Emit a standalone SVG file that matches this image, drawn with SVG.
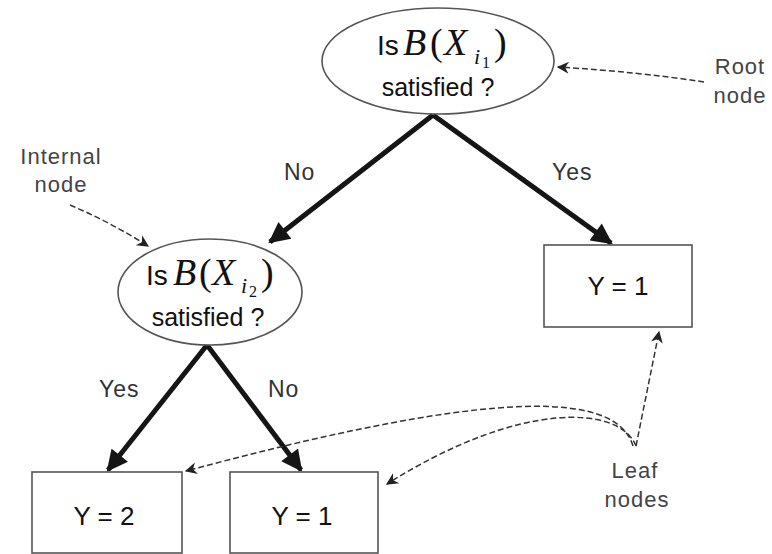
<svg xmlns="http://www.w3.org/2000/svg" width="772" height="554" viewBox="0 0 772 554">
<style>
.node{fill:#fff;stroke:#555;stroke-width:1.6}
.t{font-family:"Liberation Sans",Arial,sans-serif;fill:#111}
.m{font-family:"Liberation Serif","Times New Roman",serif;fill:#111}
.mi{font-style:italic}
.lab{font-family:"Liberation Sans",Arial,sans-serif;fill:#333;font-size:23px;letter-spacing:1px}
.ann{font-family:"Liberation Sans",Arial,sans-serif;fill:#444;font-size:22px;letter-spacing:1px}
.thick{stroke:#151515;stroke-width:5;fill:none}
.dash{stroke:#333;stroke-width:1.5;fill:none;stroke-dasharray:6 3}
</style>
<defs>
<marker id="big" viewBox="0 0 10 10" refX="9" refY="5" markerWidth="4.4" markerHeight="4.2" markerUnits="strokeWidth" orient="auto">
<path d="M0,0 L10,5 L0,10 z" fill="#151515"/>
</marker>
<marker id="small" viewBox="0 0 10 10" refX="9" refY="5" markerWidth="11" markerHeight="8" markerUnits="strokeWidth" orient="auto">
<path d="M0,0 L10,5 L0,10 L3,5 z" fill="#222"/>
</marker>
</defs>

<g id="connectors">
<line class="thick" x1="433" y1="115" x2="270" y2="242" marker-end="url(#big)"/>
<line class="thick" x1="433" y1="115" x2="611" y2="243" marker-end="url(#big)"/>
<line class="thick" x1="207" y1="345" x2="108" y2="470" marker-end="url(#big)"/>
<line class="thick" x1="207" y1="345" x2="301" y2="470" marker-end="url(#big)"/>
<text class="lab" x="284" y="180">No</text>
<text class="lab" x="552" y="180">Yes</text>
<text class="lab" x="99" y="397">Yes</text>
<text class="lab" x="268" y="397">No</text>
<path class="dash" d="M704,82 Q640,72 558,67" marker-end="url(#small)"/>
<path class="dash" d="M70,205 Q110,222 148,246" marker-end="url(#small)"/>
<path class="dash" d="M636,446 L659,332" marker-end="url(#small)"/>
<path class="dash" d="M633,446 C615,385 470,395 186,471" marker-end="url(#small)"/>
<path class="dash" d="M636,446 C620,405 520,400 387,484" marker-end="url(#small)"/>
</g>

<g id="root">
<ellipse class="node" cx="438" cy="61" rx="116" ry="53"/>
<text y="55"><tspan class="t" x="377" font-size="28">Is</tspan><tspan class="m mi" x="403" font-size="38">B</tspan><tspan class="m" x="430" font-size="38">(</tspan><tspan class="m mi" x="444" font-size="38">X</tspan><tspan class="m mi" x="474" y="64" font-size="22">i</tspan><tspan class="m" x="482" y="68" font-size="16">1</tspan><tspan class="m" x="494" y="55" font-size="38">)</tspan></text>
<text class="t" x="438" y="96" font-size="25" text-anchor="middle">satisfied ?</text>
</g>

<g id="internal">
<ellipse class="node" cx="210" cy="292" rx="92" ry="53"/>
<text y="285"><tspan class="t" x="146" font-size="28">Is</tspan><tspan class="m mi" x="173" font-size="38">B</tspan><tspan class="m" x="199" font-size="38">(</tspan><tspan class="m mi" x="212" font-size="38">X</tspan><tspan class="m mi" x="241" y="293" font-size="22">i</tspan><tspan class="m" x="249" y="297" font-size="16">2</tspan><tspan class="m" x="261" y="285" font-size="38">)</tspan></text>
<text class="t" x="208" y="326" font-size="25" text-anchor="middle">satisfied ?</text>
</g>

<g id="leaf-right">
<rect class="node" x="544" y="245" width="148" height="82"/>
<text class="t" x="618" y="295" font-size="26" text-anchor="middle">Y = 1</text>
</g>

<g id="leaf-left">
<rect class="node" x="32" y="472" width="150" height="81"/>
<text class="t" x="104" y="525" font-size="26" text-anchor="middle">Y = 2</text>
</g>

<g id="leaf-mid">
<rect class="node" x="230" y="472" width="148" height="81"/>
<text class="t" x="302" y="525" font-size="26" text-anchor="middle">Y = 1</text>
</g>

<g id="annotations">
<text class="ann" x="740" y="74" text-anchor="middle">Root</text>
<text class="ann" x="740" y="103" text-anchor="middle">node</text>
<text class="ann" x="61" y="164" text-anchor="middle">Internal</text>
<text class="ann" x="61" y="192" text-anchor="middle">node</text>
<text class="ann" x="635" y="478" text-anchor="middle">Leaf</text>
<text class="ann" x="637" y="507" text-anchor="middle">nodes</text>
</g>
</svg>
